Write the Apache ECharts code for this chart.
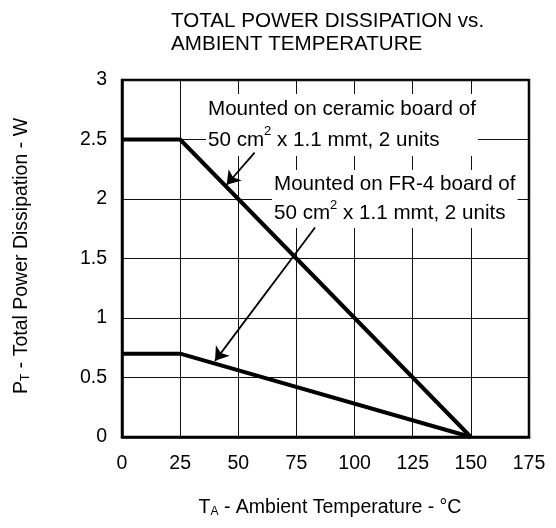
<!DOCTYPE html>
<html lang="en">
<head>
    <meta charset="UTF-8">
    <title>Total Power Dissipation vs. Ambient Temperature</title>
    <script src="https://cdn.jsdelivr.net/npm/echarts@6/dist/echarts.min.js"></script>
</head>
<body style="margin:0;background:#fff;">
<div id="main" style="width:556px;height:528px;"></div>
<script type="text/javascript">
    // data
    var temps = [0, 25, 150];
    var ceramicW = [2.5, 2.5, 0];
    var fr4W = [0.7, 0.7, 0];
    var xTicks = [0, 25, 50, 75, 100, 125, 150, 175];
    var yTicks = [0, 0.5, 1, 1.5, 2, 2.5, 3];
    // arrows pointing at the curves: [from, to] in (°C, W)
    var ceramicArrow = [[57, 2.39], [45, 2.12]];
    var fr4Arrow = [[83, 1.76], [40, 0.64]];

    var FONT = '"Liberation Sans", Arial, sans-serif';

    function pairs(xs, ys) {
        var out = [];
        for (var i = 0; i < xs.length; i++) out.push([xs[i], ys[i]]);
        return out;
    }

    var myChart = echarts.init(document.getElementById('main'));

    myChart.setOption({
        animation: false,
        backgroundColor: '#fff',
        textStyle: { fontFamily: FONT },
        title: {
            text: 'TOTAL POWER DISSIPATION vs.\nAMBIENT TEMPERATURE',
            left: 166,
            top: 5,
            textStyle: { fontFamily: FONT, fontSize: 20.6, fontWeight: 'normal', color: '#000', lineHeight: 23 }
        },
        grid: {
            left: 122, right: 27, top: 80, bottom: 91,
            show: true, borderColor: '#000', borderWidth: 2.5, backgroundColor: 'transparent'
        },
        xAxis: {
            type: 'value',
            min: xTicks[0], max: xTicks[xTicks.length - 1], interval: 25,
            axisLine: { lineStyle: { color: '#000', width: 2.5 } },
            axisTick: { show: false },
            axisLabel: { color: '#000', fontSize: 19.5, margin: 17, fontFamily: FONT },
            splitLine: { show: true, lineStyle: { color: '#111', width: 1 } }
        },
        yAxis: {
            type: 'value',
            min: yTicks[0], max: yTicks[yTicks.length - 1], interval: 0.5,
            axisLine: { show: true, lineStyle: { color: '#000', width: 2.5 } },
            axisTick: { show: false },
            axisLabel: { color: '#000', fontSize: 19.5, margin: 15, fontFamily: FONT },
            splitLine: { show: true, lineStyle: { color: '#111', width: 1 } }
        },
        graphic: [
            {
                type: 'text', left: 206, top: 94, z: 1,
                style: {
                    text: 'Mounted on ceramic board of\n50 cm{sup|2} x 1.1 mmt, 2 units',
                    font: '20.6px ' + FONT, fill: '#000', lineHeight: 31,
                    backgroundColor: '#fff', padding: [0, 2, 0, 2],
                    rich: { sup: { fontSize: 13, verticalAlign: 'top', lineHeight: 31 } }
                }
            },
            {
                type: 'text', left: 272, top: 170, z: 1,
                style: {
                    text: 'Mounted on FR-4 board of\n50 cm{sup|2} x 1.1 mmt, 2 units',
                    font: '20.6px ' + FONT, fill: '#000', lineHeight: 29,
                    backgroundColor: '#fff', padding: [0, 2, 0, 2],
                    rich: { sup: { fontSize: 13, verticalAlign: 'top', lineHeight: 29 } }
                }
            },
            {
                type: 'text', x: 330, y: 508,
                style: {
                    text: 'T{sub|A} - Ambient Temperature - °C',
                    font: '19.5px ' + FONT, fill: '#000',
                    textAlign: 'center', textVerticalAlign: 'middle',
                    rich: { sub: { fontSize: 12, verticalAlign: 'bottom', lineHeight: 19 } }
                }
            },
            {
                type: 'text', x: 22, y: 256, rotation: Math.PI / 2,
                style: {
                    text: 'P{sub|T} - Total Power Dissipation - W',
                    font: '19.5px ' + FONT, fill: '#000',
                    textAlign: 'center', textVerticalAlign: 'middle',
                    rich: { sub: { fontSize: 12, verticalAlign: 'bottom', lineHeight: 19 } }
                }
            }
        ],
        series: [
            {
                name: 'Ceramic board', type: 'line', z: 3,
                data: pairs(temps, ceramicW),
                symbol: 'none',
                lineStyle: { color: '#000', width: 4 }
            },
            {
                name: 'FR-4 board', type: 'line', z: 3,
                data: pairs(temps, fr4W),
                symbol: 'none',
                lineStyle: { color: '#000', width: 4 }
            },
            {
                name: 'arrows', type: 'lines', coordinateSystem: 'cartesian2d', z: 4,
                symbol: ['none', 'arrow'], symbolSize: 13,
                lineStyle: { color: '#000', width: 1.8, opacity: 1 },
                data: [
                    { coords: ceramicArrow },
                    { coords: fr4Arrow }
                ]
            }
        ]
    });
</script>
</body>
</html>
